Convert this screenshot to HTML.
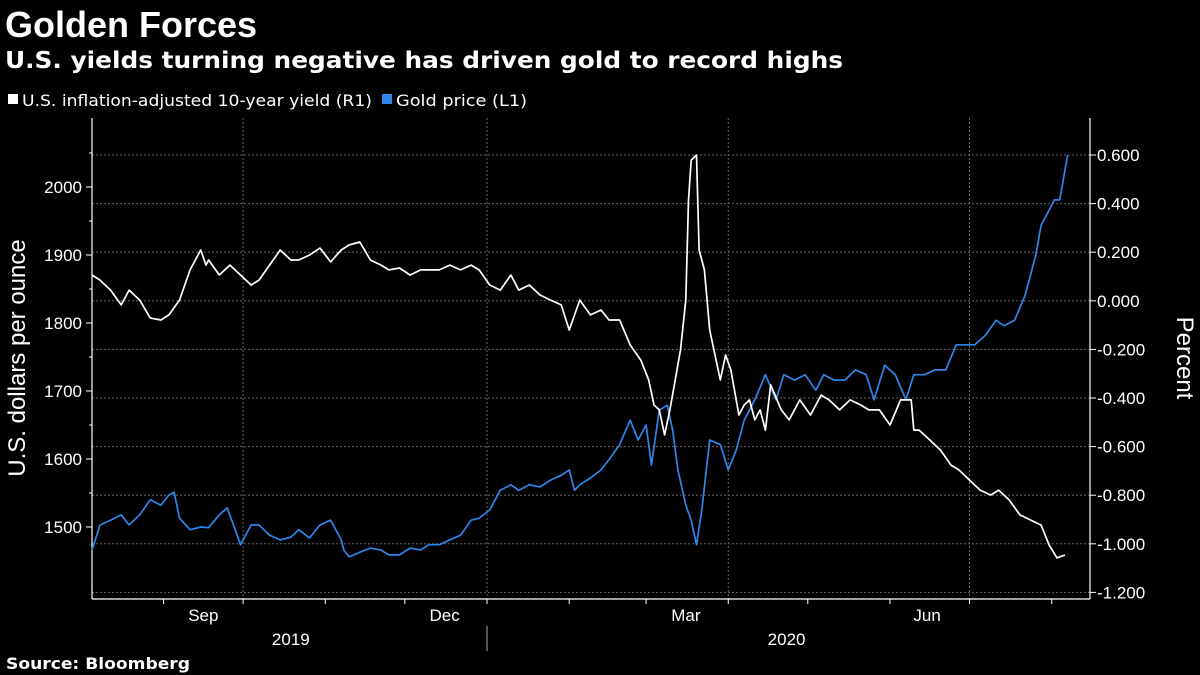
<!DOCTYPE html>
<html><head><meta charset="utf-8">
<style>
body{margin:0;background:#000;width:1200px;height:675px;overflow:hidden;font-family:"Liberation Sans",sans-serif;color:#fff}
svg{display:block}
</style></head>
<body>
<svg id="chart" width="1200" height="675" viewBox="0 0 1200 675">
<text x="5" y="37" font-size="36" font-weight="bold" fill="#fff">Golden Forces</text>
<text x="5" y="68" font-size="23" font-weight="bold" fill="#fff" font-family="DejaVu Sans, sans-serif" textLength="838" lengthAdjust="spacingAndGlyphs">U.S. yields turning negative has driven gold to record highs</text>
<g>
<rect x="8" y="94" width="10" height="10" fill="#fff"/>
<text x="22" y="106" font-size="16" fill="#fff" font-family="DejaVu Sans, sans-serif" textLength="350" lengthAdjust="spacingAndGlyphs">U.S. inflation-adjusted 10-year yield (R1)</text>
<rect x="382" y="94" width="10" height="10" fill="#2f86e8"/>
<text x="396" y="106" font-size="16" fill="#fff" font-family="DejaVu Sans, sans-serif" textLength="131" lengthAdjust="spacingAndGlyphs">Gold price  (L1)</text>
</g>
<text transform="translate(25,358) rotate(-90)" text-anchor="middle" font-size="24" fill="#fff">U.S. dollars per ounce</text>
<text transform="translate(1177,358) rotate(90)" text-anchor="middle" font-size="24" fill="#fff">Percent</text>
<g id="grid"></g><g id="axes"></g><g id="series"></g>
<text x="6" y="669" font-size="16" font-weight="bold" fill="#fff" font-family="DejaVu Sans, sans-serif" textLength="184" lengthAdjust="spacingAndGlyphs">Source: Bloomberg</text>
</svg>
<script>
// Days since 2019-08-05
const goldDays=[0,3,7,11,14,18,22,26,29,31,33,37,41,44,48,51,54,56,60,63,67,71,75,78,82,86,90,94,95,97,101,105,109,112,116,120,124,127,131,135,139,143,146,150,154,158,161,165,169,173,177,180,182,184,188,192,195,199,203,206,209,211,214,217,219,221,224,226,228,230,233,237,240,243,246,250,254,258,261,265,269,273,276,280,284,288,292,295,299,303,307,310,314,318,322,326,329,333,337,341,344,348,352,356,358,361,363,365,367,368];
const goldPrice=[1466,1503,1510,1518,1503,1518,1540,1532,1547,1551,1513,1496,1500,1499,1518,1528,1496,1474,1503,1503,1488,1481,1485,1496,1484,1503,1510,1481,1466,1456,1463,1469,1466,1459,1459,1469,1466,1474,1474,1481,1488,1510,1513,1525,1554,1562,1554,1562,1559,1569,1576,1584,1554,1562,1572,1584,1599,1621,1657,1628,1650,1591,1672,1679,1643,1584,1532,1510,1474,1525,1628,1621,1584,1613,1657,1687,1724,1687,1724,1716,1724,1701,1724,1716,1716,1731,1724,1687,1738,1724,1687,1724,1724,1731,1731,1768,1768,1768,1782,1804,1796,1804,1841,1900,1944,1966,1981,1981,2025,2047];
const yieldDays=[0,3,7,11,14,18,22,26,29,33,37,41,43,44,48,52,56,60,63,67,71,75,78,82,86,90,94,97,101,105,109,112,116,120,124,127,131,135,139,143,146,150,154,158,161,165,169,173,177,180,184,188,192,195,199,203,207,210,212,214,216,218,220,222,224,225,226,228,229,231,233,235,237,239,241,243,244,246,248,250,252,254,256,260,263,267,271,275,278,282,286,290,293,297,301,305,309,310,312,316,320,324,327,331,335,339,342,346,350,354,358,361,364,367];
const yieldPct=[0.106,0.085,0.044,-0.017,0.044,0.003,-0.071,-0.079,-0.058,0.003,0.127,0.209,0.147,0.168,0.106,0.147,0.106,0.065,0.085,0.147,0.209,0.168,0.168,0.188,0.217,0.160,0.209,0.230,0.242,0.168,0.147,0.127,0.135,0.106,0.127,0.127,0.127,0.147,0.127,0.147,0.127,0.065,0.044,0.106,0.044,0.065,0.024,0.003,-0.017,-0.120,0.003,-0.058,-0.038,-0.079,-0.079,-0.182,-0.244,-0.326,-0.429,-0.449,-0.552,-0.449,-0.326,-0.202,0.003,0.415,0.579,0.600,0.209,0.127,-0.120,-0.223,-0.326,-0.223,-0.285,-0.408,-0.470,-0.429,-0.408,-0.490,-0.449,-0.532,-0.346,-0.449,-0.490,-0.408,-0.470,-0.388,-0.408,-0.449,-0.408,-0.429,-0.449,-0.449,-0.511,-0.408,-0.408,-0.532,-0.532,-0.573,-0.614,-0.676,-0.696,-0.738,-0.779,-0.799,-0.779,-0.820,-0.881,-0.902,-0.923,-1.005,-1.058,-1.046];
const leftTicks=[1500,1600,1700,1800,1900,2000];
const rightTicks=[0.6,0.4,0.2,0.0,-0.2,-0.4,-0.6,-0.8,-1.0,-1.2];
const monthTickDays=[27,57,88,118,149,180,209,240,270,301,331,362];
const monthLabels=[{t:"Sep",d:42},{t:"Dec",d:133},{t:"Mar",d:224},{t:"Jun",d:315}];
const yearLabels=[{t:"2019",d:75},{t:"2020",d:262}];
const quarterGridDays=[57,149,240,331];

const X0=92,X1=1090,TOP=118,BOT=599;
const xS=d=>92+d/0.3772;
const yL=v=>187+(2000-v)*0.68;
const yR=v=>155+(0.6-v)*243;
const NS="http://www.w3.org/2000/svg";
function mk(tag,attrs,parent){const e=document.createElementNS(NS,tag);for(const k in attrs)e.setAttribute(k,attrs[k]);parent.appendChild(e);return e;}
const grid=document.getElementById('grid'),axes=document.getElementById('axes'),ser=document.getElementById('series');
rightTicks.forEach(v=>{
  const l=mk('line',{x1:X0,x2:X1,y1:yR(v),y2:yR(v),stroke:'#666','stroke-dasharray':'2,2','stroke-width':1},grid);
  
  
  const t=mk('line',{x1:X1,x2:X1+6,y1:yR(v),y2:yR(v),stroke:'#fff'},axes);
  
  
  const tx=mk('text',{x:1097,y:yR(v)+6,'font-size':17,fill:'#fff'},axes);
  tx.textContent=v.toFixed(3);
  
  
});
quarterGridDays.forEach(d=>{
  const l=mk('line',{x1:xS(d),x2:xS(d),y1:TOP,y2:BOT,stroke:'#666','stroke-dasharray':'2,2'},grid);
  
  
});
leftTicks.forEach(v=>{
  const t=mk('line',{x1:X0-6,x2:X0,y1:yL(v),y2:yL(v),stroke:'#fff'},axes);
  
  
  const m=mk('line',{x1:X0-3,x2:X0,y1:yL(v+50),y2:yL(v+50),stroke:'#fff'},axes);
  
  
  const tx=mk('text',{x:82,y:yL(v)+6,'font-size':17,fill:'#fff','text-anchor':'end'},axes);
  tx.textContent=v;
  
  
});
[[X0,TOP,X0,BOT],[X1,TOP,X1,BOT],[X0,BOT,X1,BOT]].forEach(a=>{
  const l=mk('line',{x1:a[0],y1:a[1],x2:a[2],y2:a[3],stroke:'#fff','stroke-width':1.2},axes);
  
  
});
monthTickDays.forEach(d=>{
  const t=mk('line',{x1:xS(d),x2:xS(d),y1:BOT,y2:BOT+5,stroke:'#fff'},axes);
  
  
});
monthLabels.forEach(o=>{
  const t=mk('text',{x:xS(o.d),y:621,'font-size':17,fill:'#fff','text-anchor':'middle'},axes);
  t.textContent=o.t;
  
  
});
yearLabels.forEach(o=>{
  const t=mk('text',{x:xS(o.d),y:645,'font-size':17,fill:'#fff','text-anchor':'middle'},axes);
  t.textContent=o.t;
  
  
});
const sep=mk('line',{x1:xS(149),x2:xS(149),y1:626,y2:651,stroke:'#aaa'},axes);


function path(days,vals,sc){return days.map((d,i)=>(i?'L':'M')+xS(d).toFixed(1)+','+sc(vals[i]).toFixed(1)).join('');}
const gp=mk('path',{d:path(goldDays,goldPrice,yL),fill:'none',stroke:'#2f86e8','stroke-width':1.7,'stroke-linejoin':'round'},ser);


const yp=mk('path',{d:path(yieldDays,yieldPct,yR),fill:'none',stroke:'#fff','stroke-width':1.7,'stroke-linejoin':'round'},ser);


</script>
</body></html>
